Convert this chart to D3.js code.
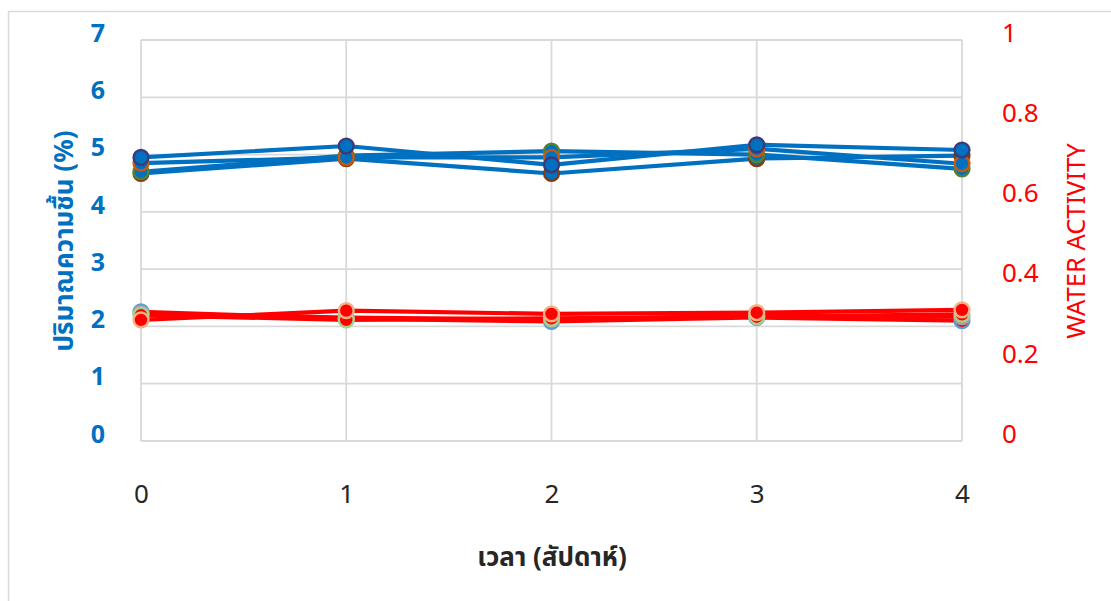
<!DOCTYPE html>
<html>
<head>
<meta charset="utf-8">
<script src="https://cdn.jsdelivr.net/npm/d3@7/dist/d3.min.js"></script>
<style>
  html, body { margin: 0; padding: 0; background: #fff; }
  svg { display: block; }
</style>
</head>
<body>
<svg id="chart" width="1111" height="601"></svg>
<script>
// Weeks of storage
const weeks = [0, 1, 2, 3, 4];

// Moisture content (%) per sample
const moistureA = [4.95, 5.15, 4.82, 5.17, 5.08];
const moistureB = [4.85, 4.95, 4.95, 5.10, 4.84];
const moistureC = [4.70, 4.98, 5.06, 5.00, 4.75];
const moistureD = [4.67, 4.93, 4.67, 4.93, 4.98];

// Water activity per sample
const awA = [0.322, 0.305, 0.298, 0.308, 0.300];
const awB = [0.318, 0.308, 0.303, 0.312, 0.310];
const awC = [0.314, 0.302, 0.306, 0.310, 0.316];
const awD = [0.302, 0.325, 0.317, 0.320, 0.327];

const leftTicks = [0, 1, 2, 3, 4, 5, 6, 7];
const rightTicks = [0, 0.2, 0.4, 0.6, 0.8, 1];

const moistureSeries = [
  { values: moistureD, border: "#843C0C" },
  { values: moistureC, border: "#548235" },
  { values: moistureB, border: "#C55A11" },
  { values: moistureA, border: "#3B3B7A" }
];
const awSeries = [
  { values: awA, border: "#5B9BD5" },
  { values: awB, border: "#A5A5A5" },
  { values: awC, border: "#A9D18E" },
  { values: awD, border: "#F4B183" }
];

const svg = d3.select("#chart");
const plot = { left: 141, right: 962, top: 40, bottom: 441 };

const x = d3.scaleLinear().domain([0, 4]).range([plot.left, plot.right]);
const yL = d3.scaleLinear().domain([0, 7]).range([plot.bottom, plot.top]);
const yR = d3.scaleLinear().domain([0, 1]).range([plot.bottom, plot.top]);

// chart frame
svg.append("rect")
  .attr("x", 8.5).attr("y", 11.5)
  .attr("width", 1120).attr("height", 620)
  .attr("fill", "none").attr("stroke", "#D9D9D9").attr("stroke-width", 1.5);

// gridlines
const grid = svg.append("g").attr("stroke", "#D9D9D9").attr("stroke-width", 1.8);
grid.selectAll("line.h").data(leftTicks).join("line")
  .attr("x1", plot.left).attr("x2", plot.right)
  .attr("y1", d => yL(d)).attr("y2", d => yL(d));
grid.selectAll("line.v").data(weeks).join("line")
  .attr("x1", d => x(d)).attr("x2", d => x(d))
  .attr("y1", plot.top).attr("y2", plot.bottom);

// axes (text only, no domain lines)
const font = "'Noto Sans', 'Noto Sans Thai', 'DejaVu Sans', sans-serif";

const leftAxis = svg.append("g")
  .attr("transform", `translate(${plot.left - 36},0)`)
  .call(d3.axisLeft(yL).tickValues(leftTicks).tickSize(0).tickPadding(0).tickFormat(d3.format("d")));
leftAxis.select(".domain").remove();
leftAxis.selectAll("text")
  .attr("fill", "#0070C0").attr("font-size", 25).attr("font-weight", "bold")
  .attr("font-family", font).attr("dy", "0.05em");

const rightAxis = svg.append("g")
  .attr("transform", `translate(${plot.right + 40},0)`)
  .call(d3.axisRight(yR).tickValues(rightTicks).tickSize(0).tickPadding(0).tickFormat(d => d === 0 || d === 1 ? d3.format("d")(d) : d3.format(".1f")(d)));
rightAxis.select(".domain").remove();
rightAxis.selectAll("text")
  .attr("fill", "#FF0000").attr("font-size", 26)
  .attr("font-family", font).attr("dy", "0.05em");

const bottomAxis = svg.append("g")
  .attr("transform", `translate(0,${plot.bottom + 44})`)
  .call(d3.axisBottom(x).tickValues(weeks).tickSize(0).tickPadding(0).tickFormat(d3.format("d")));
bottomAxis.select(".domain").remove();
bottomAxis.selectAll("text")
  .attr("fill", "#262626").attr("font-size", 26)
  .attr("font-family", font);

// axis titles
svg.append("text")
  .attr("transform", `translate(73,241) rotate(-90)`)
  .attr("text-anchor", "middle")
  .attr("fill", "#0070C0").attr("font-size", 26).attr("font-weight", "bold")
  .attr("font-family", font)
  .text("ปริมาณความชื้น (%)");

svg.append("text")
  .attr("transform", `translate(1085,241) rotate(-90)`)
  .attr("text-anchor", "middle")
  .attr("fill", "#FF0000").attr("font-size", 25.5)
  .attr("font-family", font)
  .text("WATER ACTIVITY");

svg.append("text")
  .attr("x", 552).attr("y", 566)
  .attr("text-anchor", "middle")
  .attr("fill", "#262626").attr("font-size", 26).attr("font-weight", "bold")
  .attr("font-family", font)
  .text("เวลา (สัปดาห์)");

// series drawing
function drawSeries(series, yScale, color) {
  const line = d3.line().x((d, i) => x(weeks[i])).y(d => yScale(d));
  const g = svg.append("g");
  series.forEach(s => {
    g.append("path")
      .attr("d", line(s.values))
      .attr("fill", "none").attr("stroke", color)
      .attr("stroke-width", 4.2).attr("stroke-linejoin", "round");
  });
  series.forEach(s => {
    g.selectAll(null).data(s.values).join("circle")
      .attr("cx", (d, i) => x(weeks[i]))
      .attr("cy", d => yScale(d))
      .attr("r", 7.4)
      .attr("fill", color)
      .attr("stroke", s.border).attr("stroke-width", 2.4);
  });
}

drawSeries(moistureSeries, yL, "#0070C0");
drawSeries(awSeries, yR, "#FF0000");
</script>
</body>
</html>
